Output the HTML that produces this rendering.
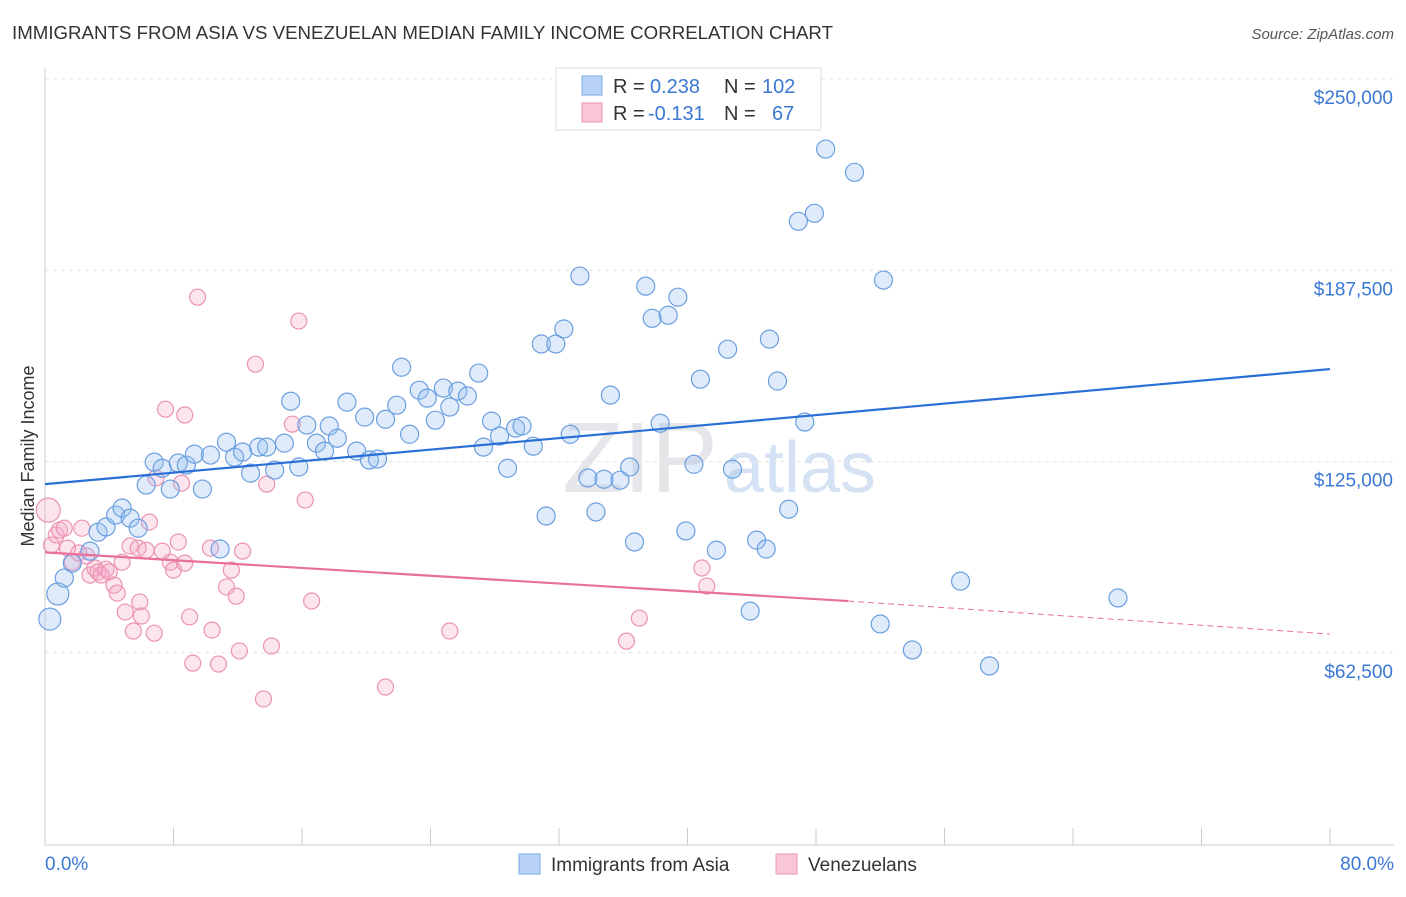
<!DOCTYPE html>
<html><head><meta charset="utf-8">
<style>
body{margin:0;background:#fff;font-family:"Liberation Sans",sans-serif;}
svg text{font-family:"Liberation Sans",sans-serif;}
</style></head>
<body>
<svg id="chart" width="1406" height="892" xmlns="http://www.w3.org/2000/svg">
<text x="12" y="39" font-size="18.7" fill="#333">IMMIGRANTS FROM ASIA VS VENEZUELAN MEDIAN FAMILY INCOME CORRELATION CHART</text>
<text x="1394" y="39" font-size="15" fill="#555" font-style="italic" text-anchor="end">Source: ZipAtlas.com</text>
<text x="0" y="0" transform="translate(34,456) rotate(-90)" font-size="18" fill="#333" text-anchor="middle">Median Family Income</text>
<text x="640" y="492" font-size="100" fill="#e6e6ea" font-family="Liberation Serif" text-anchor="middle">ZIP</text>
<text x="800" y="492" font-size="72" fill="#d4e2f4" text-anchor="middle">atlas</text>
<g id="grid"></g>
<g id="pts"></g>
<g id="trend"></g>
<g>
<rect x="556" y="68" width="265" height="62" fill="#fff" stroke="#ddd"/>
<rect x="582" y="76" width="20" height="19" fill="#b9d3f6" stroke="#7ea9e6"/>
<text x="613" y="93" font-size="20" fill="#333">R = </text><text x="650" y="93" font-size="20" fill="#3a78d4">0.238</text>
<text x="724" y="93" font-size="20" fill="#333">N = </text><text x="762" y="93" font-size="20" fill="#3a78d4">102</text>
<rect x="582" y="103" width="20" height="19" fill="#f9c6d6" stroke="#eb93b2"/>
<text x="613" y="120" font-size="20" fill="#333">R = </text><text x="648" y="120" font-size="20" fill="#3a78d4">-0.131</text>
<text x="724" y="120" font-size="20" fill="#333">N = </text><text x="772" y="120" font-size="20" fill="#3a78d4">67</text>
</g>
<g>
<rect x="519" y="854" width="21" height="20" fill="#b9d3f6" stroke="#7ea9e6"/>
<text x="551" y="871" font-size="19" fill="#333">Immigrants from Asia</text>
<rect x="776" y="854" width="21" height="20" fill="#f9c6d6" stroke="#eb93b2"/>
<text x="808" y="871" font-size="19" fill="#333">Venezuelans</text>
</g>
</svg>
<script>
const yTicks=[62500,125000,187500,250000];
const yTickLabels=["$62,500","$125,000","$187,500","$250,000"];
const xTickLabels=["0.0%","80.0%"];
const asiaX=[.3,.8,1.2,1.7,2.8,3.3,3.8,4.4,4.8,5.3,5.8,6.3,6.8,7.3,7.8,8.3,8.8,9.3,9.8,10.3,10.9,11.3,11.8,12.3,12.8,13.3,13.8,14.3,14.9,15.3,15.8,16.3,16.9,17.4,17.7,18.2,18.8,19.4,19.9,20.2,20.7,21.2,21.9,22.2,22.7,23.3,23.8,24.3,24.8,25.2,25.7,26.3,27.0,27.3,27.8,28.3,28.8,29.3,29.7,30.4,31.2,30.9,31.8,32.3,32.7,33.3,33.8,34.3,34.8,35.2,35.8,36.4,36.7,37.4,37.8,38.3,38.8,39.4,39.9,40.4,40.8,41.8,42.5,42.8,43.9,44.3,44.9,45.1,45.6,46.3,47.3,46.9,47.9,48.6,50.4,52.0,52.2,54.0,57.0,58.8,66.8];
const asiaY=[73.5,81.7,86.9,91.8,95.7,101.9,103.6,107.5,109.8,106.5,103.2,117.3,124.8,122.8,116.0,124.5,123.8,127.4,116.0,127.1,96.4,131.3,126.4,128.1,121.2,129.7,129.7,122.2,131.0,144.7,123.2,136.9,131.0,128.4,136.6,132.6,144.4,128.4,139.5,125.5,125.8,138.8,143.4,155.8,133.9,148.3,145.7,138.5,149.0,142.8,148.0,146.4,153.9,129.7,138.2,133.3,122.8,135.9,136.6,130.0,107.2,163.4,163.4,168.3,133.9,185.6,119.6,108.5,119.2,146.7,118.9,123.2,98.7,182.3,171.8,137.5,172.8,178.7,102.3,124.1,151.9,96.0,161.7,122.5,76.1,99.3,96.4,165.0,151.3,109.4,137.9,203.5,206.1,227.1,219.5,71.9,184.3,63.4,85.9,58.2,80.4];
const venX=[.2,.4,.7,.9,1.2,1.4,1.7,2.1,2.3,2.6,2.8,3.1,3.3,3.5,3.8,4.0,4.3,4.5,4.8,5.0,5.3,5.5,5.8,5.9,6.0,6.3,6.5,6.8,6.9,7.3,7.5,7.8,8.0,8.3,8.7,8.5,9.0,9.2,9.5,10.3,10.4,10.8,11.3,11.6,11.9,12.1,12.3,13.1,13.6,13.8,14.1,15.4,15.8,16.2,16.6,21.2,25.2,36.2,37.0,40.9,41.2,8.7];
const venY=[109.1,97.7,101.0,102.6,103.2,96.7,92.1,95.1,103.2,94.1,87.9,90.2,88.9,87.9,89.8,88.9,84.6,82.0,92.1,75.8,97.4,69.6,96.7,79.1,74.5,96.0,105.2,68.9,119.6,95.7,142.1,92.1,89.5,98.7,91.8,117.9,74.2,59.1,178.7,96.7,69.9,58.8,84.0,89.5,81.0,63.1,95.7,156.8,47.4,117.6,64.7,137.2,170.9,112.4,79.4,51.3,69.6,66.3,73.8,90.2,84.3,140.2];
const asiaTrend=[[0,117.6],[80,155.2]];
const venTrend=[[0,95.3],[50,79.4],[80,68.6]];

const NS="http://www.w3.org/2000/svg";
const X=v=>45+v/80*1285;
const Y=v=>844-v/62.5*191.25;
function mk(tag,attrs,parent){const e=document.createElementNS(NS,tag);for(const k in attrs)e.setAttribute(k,attrs[k]);parent.appendChild(e);return e;}
const grid=document.getElementById('grid');
yTicks.forEach((t,i)=>{
 const l=mk('line',{x1:45,x2:1394,y1:Y(t/1000),y2:Y(t/1000),stroke:'#e4e4e4','stroke-dasharray':'4,4'},grid);
 
 
 const tx=mk('text',{x:1393,y:Y(t/1000)+25,'font-size':19,fill:'#3a78d4','text-anchor':'end'},grid);
 tx.textContent=yTickLabels[i];
 
 
});
const ax=mk('line',{x1:45,x2:45,y1:68,y2:845,stroke:'#ccc'},grid);


const bx=mk('line',{x1:45,x2:1394,y1:845,y2:845,stroke:'#ccc'},grid);


for(let i=0;i<=10;i++){const tk=mk('line',{x1:X(i*8),x2:X(i*8),y1:828,y2:845,stroke:'#ccc'},grid);
 
 }
[[0,'start',45],[80,'end',1394]].forEach((d,i)=>{const t=mk('text',{x:d[2],y:870,'font-size':19,fill:'#3a78d4','text-anchor':d[1]},grid);t.textContent=xTickLabels[i];
 
 });
const pts=document.getElementById('pts');
venX.forEach((x,i)=>{const c=mk('circle',{cx:X(x),cy:Y(venY[i]),r:i==0?12:8,fill:'rgba(244,170,198,0.3)',stroke:'#eb93b2','stroke-width':1.2},pts);
 
 });
asiaX.forEach((x,i)=>{const c=mk('circle',{cx:X(x),cy:Y(asiaY[i]),r:i<2?11:9,fill:'rgba(150,190,240,0.3)',stroke:'#6a9fe0','stroke-width':1.2},pts);
 
 });
const tr=document.getElementById('trend');
const a=mk('line',{x1:X(asiaTrend[0][0]),y1:Y(asiaTrend[0][1]),x2:X(asiaTrend[1][0]),y2:Y(asiaTrend[1][1]),stroke:'#2a6fd6','stroke-width':2.2},tr);


const v1=mk('line',{x1:X(venTrend[0][0]),y1:Y(venTrend[0][1]),x2:X(venTrend[1][0]),y2:Y(venTrend[1][1]),stroke:'#e8709a','stroke-width':2.2},tr);


const v2=mk('line',{x1:X(venTrend[1][0]),y1:Y(venTrend[1][1]),x2:X(venTrend[2][0]),y2:Y(venTrend[2][1]),stroke:'#e8709a','stroke-width':1,'stroke-dasharray':'6,4'},tr);


</script>
</body></html>
